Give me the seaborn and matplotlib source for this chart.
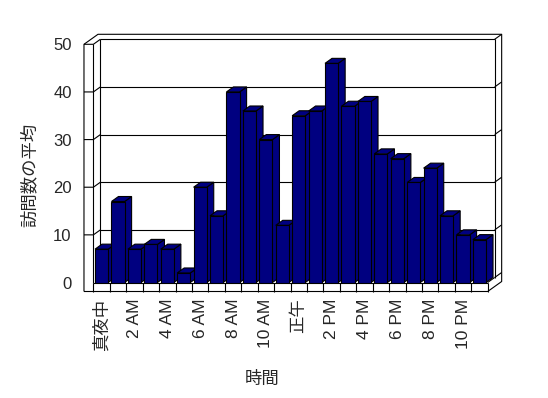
import pandas as pd
import matplotlib
matplotlib.use("Agg")
import matplotlib.pyplot as plt
from matplotlib.patches import Polygon
import seaborn as sns

# Data
hours = [
    "真夜中", "1 AM", "2 AM", "3 AM", "4 AM", "5 AM",
    "6 AM", "7 AM", "8 AM", "9 AM", "10 AM", "11 AM",
    "正午", "1 PM", "2 PM", "3 PM", "4 PM", "5 PM",
    "6 PM", "7 PM", "8 PM", "9 PM", "10 PM", "11 PM",
]
visits = [7, 17, 7, 8, 7, 2, 20, 14, 40, 36, 30, 12,
          35, 36, 46, 37, 38, 27, 26, 21, 24, 14, 10, 9]
y_ticks = [0, 10, 20, 30, 40, 50]
x_label = "時間"
y_label = "訪問数の平均"

df = pd.DataFrame({x_label: hours, y_label: visits})

sns.set_style("white")
plt.rcParams["font.family"] = ["Liberation Sans", "Noto Sans CJK JP", "DejaVu Sans"]

navy = "#000080"
fig = plt.figure(figsize=(5.48, 3.98), dpi=100)
ax = fig.add_axes([0.1704, 0.2902, 0.7195, 0.5985])

sns.barplot(data=df, x=x_label, y=y_label, color=navy, saturation=1,
            edgecolor="black", linewidth=0.8, width=0.8, ax=ax)

n = len(hours)
ax.set_xlim(-0.5, n - 0.5)
ax.set_ylim(0, 50)

# depth offset (7px right, 5px up) converted to data units
dx = 7 / (ax.bbox.width / n)
dy = 5 / (ax.bbox.height / 50)
left_out = -0.5 - 9.4 / (ax.bbox.width / n)
floor = -9 / (ax.bbox.height / 50)

line = dict(color="black", lw=0.8, clip_on=False, zorder=1,
            solid_capstyle="butt")
x0, x1 = -0.5, n - 0.5

# back wall with gridlines
for t in y_ticks:
    if t > 0:
        ax.plot([x0 + dx, x1 + dx], [t + dy, t + dy], **line)
        ax.plot([left_out, x0, x0 + dx], [t, t, t + dy], **line)
    ax.plot([x1 + dx, x1 + 2 * dx], [t + dy, t + 2 * dy], **line)
ax.plot([x0 + dx, x0 + dx], [dy, 50 + dy], **line)
ax.plot([x1 + dx, x1 + dx], [dy, 50 + dy], **line)

# outer frame
ax.plot([left_out, left_out, left_out + 2 * dx, x1 + 2 * dx, x1 + 2 * dx, x1, left_out],
        [floor, 50, 50 + 2 * dy, 50 + 2 * dy, floor + 2 * dy, floor, floor], **line)
ax.plot([x0, x0], [0, 50], **line)
ax.plot([x0, x1], [0, 0], **line)
ax.plot([x1, x1 + dx], [0, dy], **line)
for k in range(n + 1):
    ax.plot([k - 0.5, k - 0.5], [floor, 0], **line)

# 3d faces for the bars, left to right so each bar hides its neighbour's side
for i, p in enumerate(ax.patches):
    bx, bw, bh = p.get_x(), p.get_width(), p.get_height()
    z = 3 + i * 0.01
    p.set_zorder(z)
    side = [(bx + bw, 0), (bx + bw, bh), (bx + bw + dx, bh + dy), (bx + bw + dx, dy)]
    top = [(bx, bh), (bx + bw, bh), (bx + bw + dx, bh + dy), (bx + dx, bh + dy)]
    for pts in (side, top):
        ax.add_patch(Polygon(pts, closed=True, facecolor=navy, edgecolor="black",
                             lw=0.8, zorder=z - 0.005, clip_on=False))

for s in ax.spines.values():
    s.set_visible(False)

ax.set_yticks(y_ticks)
ax.set_yticklabels([str(t) for t in y_ticks], fontsize=12)
ax.set_xticks(range(0, n, 2))
ax.set_xticklabels(hours[::2], rotation=90, fontsize=12.5)
ax.tick_params(axis="y", length=0, pad=15.6)
ax.tick_params(axis="x", length=0, pad=11.5)

ax.set_xlabel(x_label, fontsize=12.5)
ax.set_ylabel(y_label, fontsize=12.5)
ax.xaxis.set_label_coords(0.428, -0.372)
ax.yaxis.set_label_coords(-0.14, 0.451)

fig.savefig("out.png", dpi=100, facecolor="white")
